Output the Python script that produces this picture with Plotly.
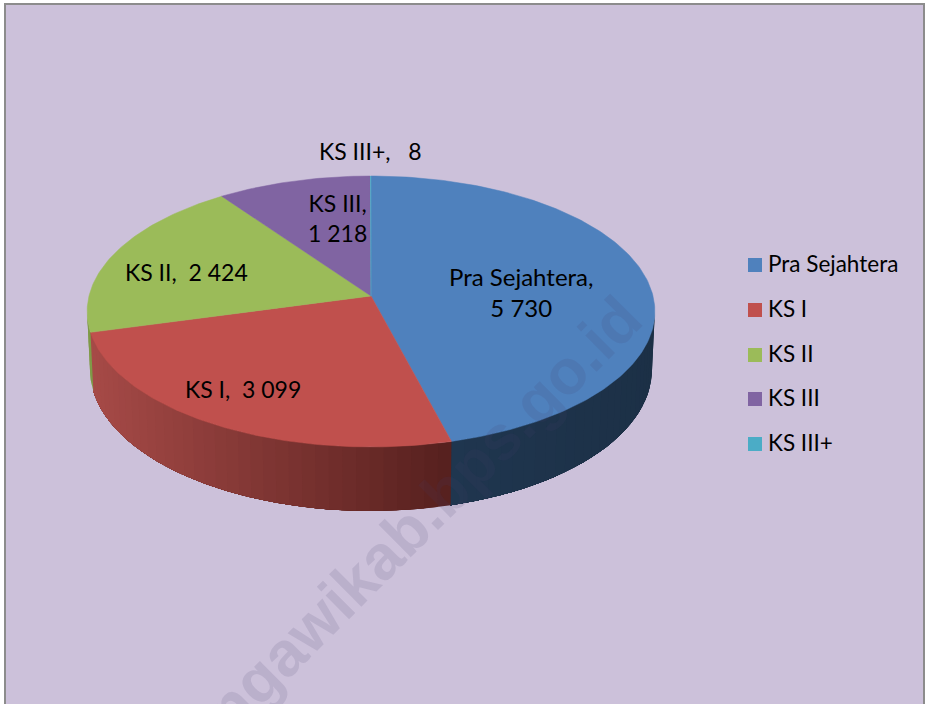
import math
import plotly.graph_objects as go

# ---- data ----
categories = ["Pra Sejahtera", "KS I", "KS II", "KS III", "KS III+"]
values = [5730, 3099, 2424, 1218, 8]

# ---- styles ----
colors = ["#4F81BD", "#C0504D", "#9BBB59", "#8064A2", "#4BACC6"]
side_left = ["#1F364F", "#A64A47", "#7F9A48", "#5F4A7A", "#388195"]
side_right = ["#1C3046", "#56201E", "#7F9A48", "#5F4A7A", "#388195"]
BG = "#CCC1DA"
FONT = "Lato"
LABEL_SIZES = [24, 23, 23, 23, 23]
LEGEND_SIZE = 22.5

# ---- projection of the tilted disc onto the page ----
CX, CY, RX, RY, K = 371.0, 296.0, 282.0, 133.7, 0.1143
DEPTH_FRONT, DEPTH_SIDE = 64.0, 57.0
LOWER_SCALE = 0.99


def top_point(theta):
    u, v = math.sin(theta), math.cos(theta)
    d = 1 + K * v
    return CX + RX * u / d, CY - RY * v / d


def low_point(theta):
    x, y = top_point(theta)
    v = math.cos(theta)
    dy = DEPTH_SIDE + (DEPTH_FRONT - DEPTH_SIDE) * max(0.0, -v)
    return CX + (x - CX) * LOWER_SCALE, y + dy


def mix(c1, c2, t):
    a = [int(c1[i:i + 2], 16) for i in (1, 3, 5)]
    b = [int(c2[i:i + 2], 16) for i in (1, 3, 5)]
    return "#" + "".join(f"{round(p + (q - p) * t):02X}" for p, q in zip(a, b))


total = sum(values)
edges = [0.0]
for val in values:
    edges.append(edges[-1] + val / total * 2 * math.pi)

fig = go.Figure()

# side wall (only the part facing the viewer); each band is painted over the
# previous one and runs on to the end of its slice, so no seams appear
th_r, th_l = math.acos(-K), 2 * math.pi - math.acos(-K)
BAND = math.radians(2.5)
for i, (a0, a1) in enumerate(zip(edges[:-1], edges[1:])):
    s0, s1 = max(a0, th_r), min(a1, th_l)
    if s1 <= s0:
        continue
    n = max(1, math.ceil((s1 - s0) / BAND))
    xl = top_point(s1)[0]
    xr = top_point(s0)[0]
    for j in range(n):
        t0 = s0 + (s1 - s0) * j / n
        tm = s0 + (s1 - s0) * (j + 0.5) / n
        f = (top_point(tm)[0] - xl) / max(1.0, xr - xl)
        col = mix(side_left[i], side_right[i], f)
        m = n - j
        ts = [t0 + (s1 - t0) * q / m for q in range(m + 1)]
        up = [top_point(t) for t in ts]
        lo = [low_point(t) for t in reversed(ts)]
        p = up + lo + [up[0]]
        fig.add_trace(go.Scatter(
            x=[q[0] for q in p], y=[q[1] for q in p],
            mode="lines", fill="toself", fillcolor=col,
            line=dict(width=0), hoverinfo="skip", showlegend=False))

# top face
for i, (a0, a1) in enumerate(zip(edges[:-1], edges[1:])):
    n = max(2, math.ceil((a1 - a0) / math.radians(1.0)))
    pts = [top_point(a0 + (a1 - a0) * j / n) for j in range(n + 1)]
    fig.add_trace(go.Scatter(
        x=[CX] + [q[0] for q in pts] + [CX],
        y=[CY] + [q[1] for q in pts] + [CY],
        mode="lines", fill="toself", fillcolor=colors[i],
        line=dict(color=colors[i], width=0.5),
        name=categories[i], hovertemplate=f"{categories[i]}: {values[i]}<extra></extra>",
        showlegend=False))


def fmt(v):
    return f"{v:,}".replace(",", "\u00a0")


NB = "\u00a0"
label_text = [
    f"{categories[0]},<br>{fmt(values[0])}",
    f"KS{NB}I,{NB}{NB}{fmt(values[1])}",
    f"KS{NB}II,{NB}{NB}{fmt(values[2])}",
    f"KS{NB}III,<br>{fmt(values[3])}",
    f"KS{NB}III+,{NB}{NB}{NB}{fmt(values[4])}",
]
label_pos = [(521, 292), (243, 389), (186, 272), (337, 218), (370, 151)]
legend_y = [265, 310, 355, 399, 444]

annotations = [dict(
    text="<b>ngawikab.bps.go.id</b>", x=423, y=514, xref="x", yref="y",
    textangle=-45, showarrow=False,
    font=dict(family="Liberation Sans", size=63, color="rgba(70,60,110,0.13)"),
)]
for txt, (lx, ly), fs in zip(label_text, label_pos, LABEL_SIZES):
    annotations.append(dict(
        text=txt, x=lx, y=ly, xref="x", yref="y", showarrow=False, align="center",
        font=dict(family=FONT, size=fs, color="#000000")))

shapes = [dict(type="rect", xref="x", yref="y", x0=5, y0=4, x1=924, y1=720,
               fillcolor=BG, line=dict(color="#8C8C8C", width=2), layer="below")]
for cat, col, ly in zip(categories, colors, legend_y):
    shapes.append(dict(type="rect", xref="x", yref="y", x0=748, x1=762,
                       y0=ly - 7, y1=ly + 7, fillcolor=col, line=dict(width=0)))
    annotations.append(dict(
        text=cat, x=766, y=ly - 2, xref="x", yref="y", xanchor="left", showarrow=False,
        font=dict(family=FONT, size=LEGEND_SIZE, color="#000000")))

fig.update_layout(
    width=930, height=704, autosize=False,
    margin=dict(l=0, r=0, t=0, b=0),
    paper_bgcolor="white", plot_bgcolor="white",
    xaxis=dict(range=[0, 930], visible=False, fixedrange=True),
    yaxis=dict(range=[704, 0], visible=False, fixedrange=True),
    shapes=shapes,
    annotations=annotations,
    showlegend=False,
)

fig.write_html(
    "out.html",
    config={"displayModeBar": False},
    post_script="document.body.style.margin='0';document.documentElement.style.overflow='hidden';",
)
